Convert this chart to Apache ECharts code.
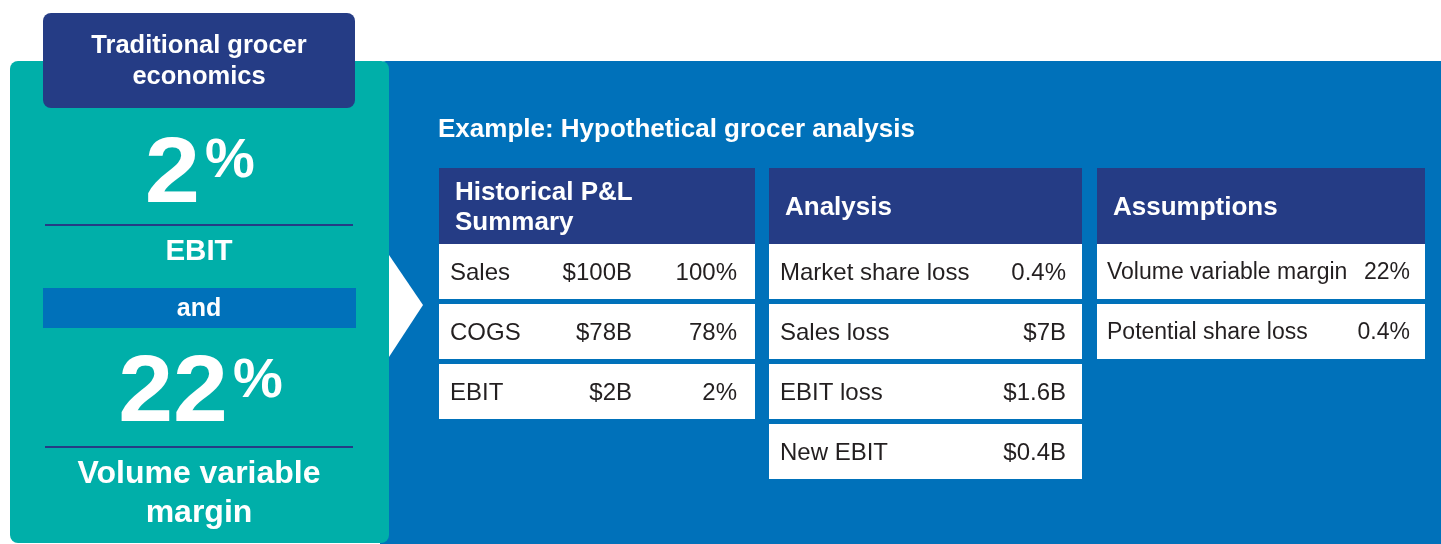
<!DOCTYPE html>
<html>
<head>
<meta charset="utf-8">
<script src="https://cdn.jsdelivr.net/npm/echarts@6/dist/echarts.min.js"></script>
<style>
  html, body { margin: 0; padding: 0; background: #fff; }
  #main { width: 1441px; height: 544px; }
</style>
</head>
<body>
<div id="main"></div>
<script>
// data
const sideTitle = ['Traditional grocer', 'economics'];
const ebitValue = '2';
const ebitLabel = 'EBIT';
const joinWord = 'and';
const vvmValue = '22';
const vvmLabel = ['Volume variable', 'margin'];
const subtitle = 'Example: Hypothetical grocer analysis';

const plHeader = ['Historical P&L', 'Summary'];
const plRows = [
  ['Sales', '$100B', '100%'],
  ['COGS', '$78B', '78%'],
  ['EBIT', '$2B', '2%']
];
const analysisHeader = ['Analysis'];
const analysisRows = [
  ['Market share loss', '0.4%'],
  ['Sales loss', '$7B'],
  ['EBIT loss', '$1.6B'],
  ['New EBIT', '$0.4B']
];
const assumptionHeader = ['Assumptions'];
const assumptionRows = [
  ['Volume variable margin', '22%'],
  ['Potential share loss', '0.4%']
];

const TEAL = '#00afa9';
const BLUE = '#0071ba';
const NAVY = '#253c85';
const INK = '#231f20';
const FONT = '"Liberation Sans", Arial, sans-serif';

const chart = echarts.init(document.getElementById('main'));

function txt(x, y, text, size, opt) {
  opt = opt || {};
  return {
    type: 'text', x: x, y: y, silent: true,
    scaleX: opt.sx || 1,
    style: {
      text: text,
      fontFamily: FONT,
      fontSize: size,
      fontWeight: opt.weight || 'bold',
      fill: opt.fill || '#fff',
      textAlign: opt.align || 'center',
      textVerticalAlign: 'middle'
    }
  };
}

const els = [];

// blue panel + teal card
els.push({ type: 'rect', shape: { x: 380, y: 61, width: 1080, height: 500, r: 6 }, style: { fill: BLUE } });
els.push({ type: 'polygon', shape: { points: [[389, 255], [423, 305], [389, 357]] }, style: { fill: '#fff' } });
els.push({ type: 'rect', shape: { x: 10, y: 61, width: 379, height: 482, r: 8 }, style: { fill: TEAL } });

// side title box
els.push({ type: 'rect', shape: { x: 43, y: 13, width: 312, height: 95, r: 8 }, style: { fill: NAVY } });
sideTitle.forEach((t, i) => els.push(txt(199, 46 + i * 31, t, 25.5)));

// 2% EBIT
els.push(txt(200, 177, ebitValue, 92, { align: 'right', sx: 1.08 }));
els.push(txt(205, 162, '%', 56, { align: 'left' }));
els.push({ type: 'line', shape: { x1: 45, y1: 225, x2: 353, y2: 225 }, style: { stroke: NAVY, lineWidth: 2 } });
els.push(txt(199, 252, ebitLabel, 29.5));

// and
els.push({ type: 'rect', shape: { x: 43, y: 288, width: 313, height: 40 }, style: { fill: BLUE } });
els.push(txt(199, 309, joinWord, 25));

// 22% VVM
els.push(txt(228, 395, vvmValue, 94, { align: 'right', sx: 1.05 }));
els.push(txt(233, 382, '%', 56, { align: 'left' }));
els.push({ type: 'line', shape: { x1: 45, y1: 447, x2: 353, y2: 447 }, style: { stroke: NAVY, lineWidth: 2 } });
vvmLabel.forEach((t, i) => els.push(txt(199, 474 + i * 39, t, 32)));

// subtitle
els.push(txt(438, 130, subtitle, 26, { align: 'left' }));

// tables
const HEAD_TOP = 168, HEAD_H = 76, ROW_H = 55, ROW_STEP = 60;
const tables = [
  { x: 439, w: 316, header: plHeader, rows: plRows, cols: [450, 632, 737], fs: 24 },
  { x: 769, w: 313, header: analysisHeader, rows: analysisRows, cols: [780, 1066], fs: 24 },
  { x: 1097, w: 328, header: assumptionHeader, rows: assumptionRows, cols: [1107, 1410], fs: 23 }
];

tables.forEach(tb => {
  els.push({ type: 'rect', shape: { x: tb.x, y: HEAD_TOP, width: tb.w, height: HEAD_H }, style: { fill: NAVY } });
  const n = tb.header.length;
  tb.header.forEach((h, i) => {
    els.push(txt(tb.x + 16, HEAD_TOP + HEAD_H / 2 + 2 + (i - (n - 1) / 2) * 30, h, 26, { align: 'left' }));
  });
  tb.rows.forEach((row, r) => {
    const top = HEAD_TOP + HEAD_H + r * ROW_STEP;
    els.push({ type: 'rect', shape: { x: tb.x, y: top, width: tb.w, height: ROW_H }, style: { fill: '#fff' } });
    row.forEach((cell, c) => {
      els.push(txt(tb.cols[c], top + ROW_H / 2 + 1.5, cell, tb.fs, {
        align: c === 0 ? 'left' : 'right', weight: 'normal', fill: INK
      }));
    });
  });
});

chart.setOption({
  animation: false,
  graphic: { elements: els }
});

window.addEventListener('resize', () => chart.resize());
</script>
</body>
</html>
